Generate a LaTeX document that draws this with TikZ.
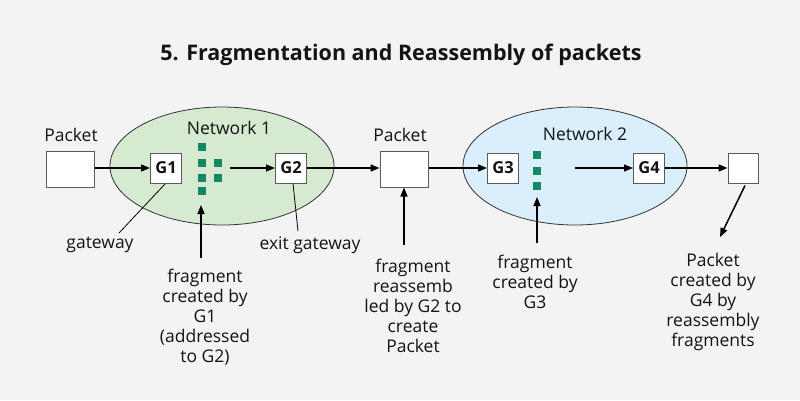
\documentclass[tikz,border=0pt]{standalone}
\usepackage{fontspec}
\setmainfont{Open Sans}
\usetikzlibrary{arrows.meta,shapes.geometric}
\definecolor{bg}{RGB}{243,243,243}
\definecolor{netgreen}{RGB}{214,234,210}
\definecolor{netblue}{RGB}{219,238,252}
\definecolor{frag}{RGB}{20,135,100}
\definecolor{boxline}{RGB}{90,90,90}
\definecolor{ink}{RGB}{20,20,20}
\tikzset{
  net/.style={ellipse,draw=black!80,line width=0.8pt,minimum width=224pt,minimum height=118pt,inner sep=0pt},
  pkt/.style={rectangle,draw=boxline,fill=white,line width=1pt,minimum width=48pt,minimum height=36pt,inner sep=0pt},
  gw/.style={rectangle,draw=boxline,fill=white,line width=1pt,minimum width=31pt,minimum height=30pt,inner sep=0pt,font=\fontsize{16.5}{18}\selectfont\bfseries,text=ink},
  sq/.style={rectangle,fill=frag,minimum width=8pt,minimum height=8pt,inner sep=0pt},
  lbl/.style={font=\fontsize{17.5}{20}\selectfont,align=center,inner sep=0pt,text=ink},
  flow/.style={-{Triangle[length=9pt,width=7pt]},line width=1.5pt,black},
  thin/.style={line width=0.8pt,black},
}
\begin{document}
\begin{tikzpicture}[x=1pt,y=-1pt]
\useasboundingbox (0,0) rectangle (800,400);
\fill[bg] (0,0) rectangle (800,400);
\node[font=\fontsize{21.5}{24}\selectfont\bfseries,text=ink] (title) at (401,55) {5. Fragmentation and Reassembly of packets};
% networks
\node[net,fill=netgreen] (n1) at (222,166) {};
\node[net,fill=netblue] (n2) at (575,166) {};
\node[lbl] (n1t) at (229,128) {Network 1};
\node[lbl] (n2t) at (585,134) {Network 2};
% packets
\node[pkt] (p1) at (70,169) {};
\node[lbl] (p1t) at (71,135) {Packet};
\node[pkt] (p2) at (404,169) {};
\node[lbl] (p2t) at (400,135) {Packet};
\node[pkt,minimum width=30pt,minimum height=30pt] (p3) at (743,168) {};
% gateways
\node[gw] (g1) at (166,168) {G1};
\node[gw] (g2) at (291,168) {G2};
\node[gw] (g3) at (503,168) {G3};
\node[gw] (g4) at (649,168) {G4};
% fragments 1
\node[sq] (fa1) at (202,147) {};
\node[sq] (fa2) at (202,163) {};
\node[sq] (fa3) at (202,178) {};
\node[sq] (fa4) at (202,191) {};
\node[sq] (fb2) at (218,163) {};
\node[sq] (fb3) at (218,178) {};
% fragments 2
\node[sq] (fc1) at (537,155) {};
\node[sq] (fc2) at (537,171) {};
\node[sq] (fc3) at (537,186) {};
% flow arrows
\coordinate (s1) at (230,168);
\coordinate (s2) at (575,168);
\draw[flow] (p1.east |- g1.west) -- (g1.west);
\draw[flow] (s1) -- (g2.west);
\draw[flow] (g2.east) -- (p2.west |- g2.east);
\draw[flow] (p2.east |- g3.west) -- (g3.west);
\draw[flow] (s2) -- (g4.west);
\draw[flow] (g4.east) -- (p3.west);
% labels
\node[lbl] (lgw) at (100,245) {gateway};
\node[lbl] (lexit) at (310,245) {exit gateway};
\node[lbl] (lf1) at (205,317) {fragment\\created by\\G1\\(addressed\\to G2)};
\node[lbl] (lf2) at (413,306) {fragment\\reassemb\\led by G2 to\\create\\Packet};
\node[lbl] (lf3) at (535,282) {fragment\\created by\\G3};
\node[lbl] (lf4) at (713,302) {Packet\\created by\\G4 by\\reassembly\\fragments};
% pointer lines
\coordinate (e1) at (119,233);
\coordinate (e2) at (298,231);
\draw[thin] (165,184) -- (e1);
\draw[thin] (g2.south) ++(2,0) -- (e2);
\coordinate (a1) at (201,258);
\coordinate (t1) at (201,205);
\draw[flow] (a1) -- (t1);
\coordinate (a2) at (404,245);
\draw[flow] (a2) -- (p2.south);
\coordinate (a3) at (537,243);
\coordinate (t3) at (537,197);
\draw[flow] (a3) -- (t3);
\coordinate (t4) at (720,237);
\draw[flow] (p3.south) ++(2,2) -- (t4);
\end{tikzpicture}
\end{document}
